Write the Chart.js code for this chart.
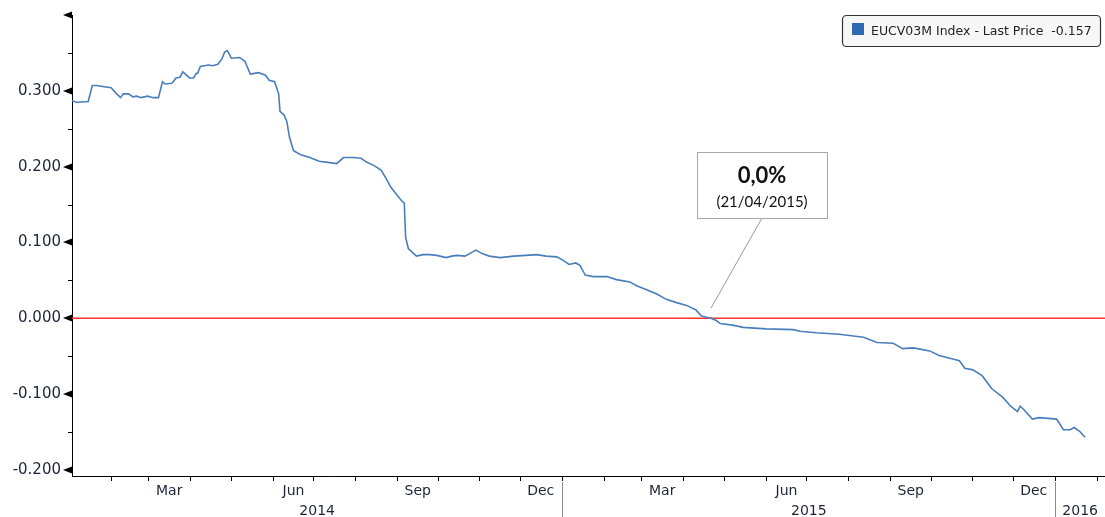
<!DOCTYPE html>
<html>
<head>
<meta charset="utf-8">
<script src="https://cdn.jsdelivr.net/npm/chart.js@4.4.1/dist/chart.umd.min.js"></script>
<style>
html, body { margin: 0; padding: 0; background: #fff; }
#wrap { width: 1105px; height: 517px; position: relative; }
</style>
</head>
<body>
<div id="wrap"><canvas id="chart"></canvas></div>
<script>
// EUCV03M Index - last price
const dates = [
    '2014-01-03','2014-01-06','2014-01-15','2014-01-18','2014-01-21','2014-02-01','2014-02-05','2014-02-08','2014-02-10','2014-02-14',
    '2014-02-17','2014-02-20','2014-02-23','2014-02-28','2014-03-04','2014-03-08','2014-03-11','2014-03-13','2014-03-18','2014-03-21',
    '2014-03-24','2014-03-26','2014-03-28','2014-03-31','2014-04-03','2014-04-05','2014-04-06','2014-04-08','2014-04-14','2014-04-17',
    '2014-04-21','2014-04-24','2014-04-26','2014-04-28','2014-05-01','2014-05-07','2014-05-11','2014-05-15','2014-05-18','2014-05-21',
    '2014-05-26','2014-05-29','2014-06-02','2014-06-05','2014-06-06','2014-06-09','2014-06-11','2014-06-13','2014-06-16','2014-06-21',
    '2014-06-28','2014-07-05','2014-07-10','2014-07-18','2014-07-23','2014-07-30','2014-08-05','2014-08-09','2014-08-15','2014-08-20',
    '2014-08-24','2014-08-27','2014-08-31','2014-09-04','2014-09-06','2014-09-07','2014-09-09','2014-09-15','2014-09-20','2014-09-25',
    '2014-09-30','2014-10-07','2014-10-11','2014-10-15','2014-10-21','2014-10-26','2014-10-29','2014-11-03','2014-11-08','2014-11-16',
    '2014-11-26','2014-12-05','2014-12-13','2014-12-20','2014-12-28','2015-01-02','2015-01-06','2015-01-11','2015-01-14','2015-01-18',
    '2015-01-24','2015-02-03','2015-02-10','2015-02-20','2015-02-25','2015-03-04','2015-03-12','2015-03-19','2015-03-26','2015-04-03',
    '2015-04-10','2015-04-14','2015-04-21','2015-04-25','2015-04-28','2015-05-07','2015-05-15','2015-06-01','2015-06-21','2015-06-26',
    '2015-07-08','2015-07-25','2015-08-12','2015-08-22','2015-09-03','2015-09-10','2015-09-18','2015-09-30','2015-10-07','2015-10-20',
    '2015-10-22','2015-10-26','2015-11-01','2015-11-08','2015-11-15','2015-11-23','2015-11-29','2015-12-04','2015-12-06','2015-12-09',
    '2015-12-15','2015-12-20','2016-01-02','2016-01-07','2016-01-12','2016-01-15','2016-01-19','2016-01-23'
];
const values = [
    0.287, 0.285, 0.286, 0.307, 0.307, 0.304, 0.296, 0.291, 0.296, 0.296,
    0.292, 0.293, 0.291, 0.293, 0.291, 0.291, 0.312, 0.309, 0.310, 0.317,
    0.318, 0.325, 0.322, 0.317, 0.317, 0.323, 0.323, 0.332, 0.334, 0.333,
    0.335, 0.342, 0.351, 0.353, 0.343, 0.344, 0.339, 0.322, 0.323, 0.324,
    0.321, 0.314, 0.312, 0.296, 0.273, 0.268, 0.260, 0.239, 0.221, 0.216,
    0.212, 0.207, 0.206, 0.204, 0.212, 0.212, 0.211, 0.206, 0.201, 0.195,
    0.183, 0.173, 0.164, 0.155, 0.152, 0.107, 0.092, 0.082, 0.084, 0.084,
    0.083, 0.080, 0.082, 0.083, 0.082, 0.087, 0.090, 0.085, 0.082, 0.080,
    0.082, 0.083, 0.084, 0.082, 0.081, 0.076, 0.071, 0.073, 0.070, 0.057,
    0.055, 0.055, 0.051, 0.048, 0.043, 0.038, 0.032, 0.025, 0.021, 0.017,
    0.011, 0.003, 0.000, -0.003, -0.007, -0.009, -0.012, -0.014, -0.015, -0.017,
    -0.019, -0.021, -0.025, -0.032, -0.033, -0.040, -0.039, -0.043, -0.049, -0.055,
    -0.056, -0.066, -0.068, -0.076, -0.093, -0.104, -0.116, -0.123, -0.116, -0.121,
    -0.133, -0.131, -0.133, -0.147, -0.147, -0.144, -0.149, -0.157
];

// axis labels
const yTickValues = [-0.2, -0.1, 0, 0.1, 0.2, 0.3, 0.4];
const monthLabelDates = ['2014-03-16','2014-06-16','2014-09-16','2014-12-16','2015-03-16','2015-06-16','2015-09-16','2015-12-16'];
const monthLabelNames = ['Mar','Jun','Sep','Dec','Mar','Jun','Sep','Dec'];
const yearLabels = ['2014','2015','2016'];
const legendText = 'EUCV03M Index - Last Price  -0.157';
const calloutValue = '0,0%';
const calloutDate = '(21/04/2015)';
const crossDate = '2015-04-21';

// day numbers counted from 1 Jan 2014
const base = Date.UTC(2014, 0, 1);
function dayNum(s) {
    const p = s.split('-').map(Number);
    return (Date.UTC(p[0], p[1] - 1, p[2]) - base) / 864e5;
}
const xMin = 2, xMax = 766.8;

// month boundaries for the small ticks under the axis
const monthStarts = [];
for (let y = 2014; y <= 2016; y++) {
    for (let m = 0; m < 12; m++) {
        const d = (Date.UTC(y, m, 1) - base) / 864e5;
        if (d > xMin && d < xMax) monthStarts.push(d);
    }
}

const labelColor = '#1c2538';
const axisFont = { family: 'DejaVu Sans', size: 15 };

const bloombergAxes = {
    id: 'bloombergAxes',
    afterDraw(chart) {
        const ctx = chart.ctx;
        const xs = chart.scales.x, ys = chart.scales.y;
        const area = chart.chartArea;
        ctx.save();

        // triangles on major y ticks, short marks on the half steps
        ctx.fillStyle = '#000';
        ctx.strokeStyle = '#000';
        ctx.lineWidth = 1;
        yTickValues.forEach(v => {
            const py = Math.round(ys.getPixelForValue(v));
            ctx.beginPath();
            ctx.moveTo(area.left, py - 3.5);
            ctx.lineTo(area.left, py + 3.5);
            ctx.lineTo(area.left - 9, py);
            ctx.closePath();
            ctx.fill();
            const half = v - 0.05;
            if (half > ys.min) {
                const hy = Math.round(ys.getPixelForValue(half)) + 0.5;
                ctx.beginPath();
                ctx.moveTo(area.left - 4, hy);
                ctx.lineTo(area.left, hy);
                ctx.stroke();
            }
        });

        // month and year labels
        ctx.font = '14px "DejaVu Sans"';
        ctx.fillStyle = labelColor;
        ctx.textAlign = 'center';
        ctx.textBaseline = 'middle';
        monthLabelDates.forEach((d, i) => {
            ctx.fillText(monthLabelNames[i], xs.getPixelForValue(dayNum(d)), area.bottom + 15);
        });
        yearLabels.forEach(y => {
            const start = Math.max(dayNum(y + '-01-01'), xMin);
            const end = Math.min(dayNum((+y + 1) + '-01-01'), xMax);
            const px = (xs.getPixelForValue(start) + xs.getPixelForValue(end)) / 2;
            ctx.fillText(y, px, area.bottom + 35);
            const sep = dayNum(y + '-01-01');
            if (sep > xMin) {
                const sx = Math.round(xs.getPixelForValue(sep)) + 0.5;
                ctx.strokeStyle = '#8a8a8a';
                ctx.beginPath();
                ctx.moveTo(sx, area.bottom + 6);
                ctx.lineTo(sx, chart.height);
                ctx.stroke();
            }
        });

        // legend box
        const lx = 842, ly = 15, lw = 258, lh = 31;
        ctx.beginPath();
        ctx.roundRect(lx + 0.5, ly + 0.5, lw, lh, 4);
        ctx.fillStyle = '#f7f7f7';
        ctx.fill();
        ctx.strokeStyle = '#333';
        ctx.lineWidth = 1.2;
        ctx.stroke();
        ctx.fillStyle = '#2d6bb3';
        ctx.fillRect(852, 23, 12, 12);
        let fs = 13.5;
        ctx.font = fs + 'px "DejaVu Sans"';
        while (ctx.measureText(legendText).width > 226 && fs > 9) {
            fs -= 0.5;
            ctx.font = fs + 'px "DejaVu Sans"';
        }
        ctx.fillStyle = '#222';
        ctx.textAlign = 'left';
        ctx.fillText(legendText, 871, ly + lh / 2 + 1);

        // callout for the zero crossing
        const cx = xs.getPixelForValue(dayNum(crossDate));
        const cy = ys.getPixelForValue(0) - 10;
        ctx.strokeStyle = '#9a9a9a';
        ctx.lineWidth = 1;
        ctx.beginPath();
        ctx.moveTo(762, 218);
        ctx.lineTo(cx, cy);
        ctx.stroke();
        ctx.fillStyle = '#fff';
        ctx.fillRect(697, 152, 130, 66);
        ctx.strokeStyle = '#a8a8a8';
        ctx.strokeRect(697.5, 152.5, 130, 66);
        ctx.fillStyle = '#111';
        ctx.textAlign = 'center';
        ctx.font = 'bold 22px Lato';
        ctx.fillText(calloutValue, 762, 176);
        ctx.font = '15px Lato';
        ctx.fillText(calloutDate, 762, 202);

        ctx.restore();
    }
};

const ctx = document.getElementById('chart').getContext('2d');
new Chart(ctx, {
    type: 'line',
    data: {
        datasets: [{
            label: 'EUCV03M Index',
            data: dates.map((d, i) => ({ x: dayNum(d), y: values[i] })),
            borderColor: '#4a7ebb',
            borderWidth: 1.6,
            pointRadius: 0,
            tension: 0,
            order: 1
        }, {
            label: 'zero',
            data: [{ x: xMin, y: 0 }, { x: xMax, y: 0 }],
            borderColor: '#ff3030',
            borderWidth: 1.5,
            pointRadius: 0,
            order: 2
        }]
    },
    options: {
        responsive: true,
        maintainAspectRatio: false,
        animation: false,
        layout: { padding: { top: 15, right: 0, left: 0, bottom: 0 } },
        plugins: {
            legend: { display: false },
            tooltip: { enabled: false }
        },
        scales: {
            x: {
                type: 'linear',
                min: xMin,
                max: xMax,
                afterBuildTicks: s => { s.ticks = monthStarts.map(v => ({ value: v })); },
                afterFit: s => { s.height = 41; s.paddingLeft = 0; s.paddingRight = 0; },
                ticks: { callback: () => '', autoSkip: false, maxRotation: 0 },
                grid: { drawOnChartArea: false, drawTicks: true, tickLength: 5, color: '#000' },
                border: { display: true, color: '#000', width: 1 }
            },
            y: {
                min: -0.208,
                max: 0.4,
                afterBuildTicks: s => { s.ticks = yTickValues.map(v => ({ value: v })); },
                afterFit: s => { s.width = 72; s.paddingTop = 0; s.paddingBottom = 0; },
                ticks: {
                    autoSkip: false,
                    padding: 11,
                    color: labelColor,
                    font: axisFont,
                    callback: v => (v > 0.35 ? '' : v.toFixed(3))
                },
                grid: { display: false, drawTicks: false },
                border: { display: true, color: '#000', width: 1 }
            }
        }
    },
    plugins: [bloombergAxes]
});
</script>
</body>
</html>
